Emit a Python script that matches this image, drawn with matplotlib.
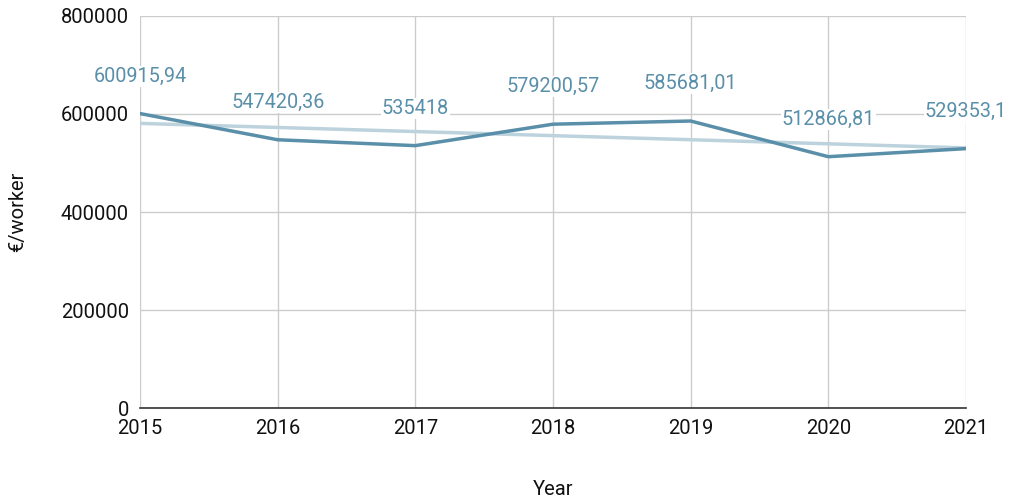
import numpy as np
import matplotlib.pyplot as plt

plt.rcParams['font.family'] = ['Roboto', 'DejaVu Sans']

years = [2015, 2016, 2017, 2018, 2019, 2020, 2021]
values = [600915.94, 547420.36, 535418, 579200.57, 585681.01, 512866.81, 529353.1]
labels = ["600915,94", "547420,36", "535418", "579200,57", "585681,01", "512866,81", "529353,1"]

line_color = '#5a8fa9'
trend_color = '#bcd2dd'

fig = plt.figure(figsize=(10.11, 4.99), dpi=100)
ax = fig.add_axes([140 / 1011, 1 - 408 / 499, 826 / 1011, 392 / 499])

# linear trendline
coef = np.polyfit(years, values, 1)
ax.plot(years, np.polyval(coef, years), color=trend_color, lw=2.5, zorder=2)
ax.plot(years, values, color=line_color, lw=2.5, zorder=3)

for x, y, s in zip(years, values, labels):
    ax.annotate(s, (x, y), xytext=(0, 27), textcoords='offset points',
                ha='center', va='center', fontsize=14.3, color=line_color,
                bbox=dict(boxstyle='square,pad=0.05', fc='white', ec='none'), zorder=4)

ax.set_xlim(2015, 2021)
ax.set_ylim(0, 800000)
ax.set_xticks(years)
ax.set_yticks([0, 200000, 400000, 600000, 800000])
ax.set_yticklabels(['0', '200000', '400000', '600000', '800000'])
ax.grid(True, color='#cccccc', lw=1)
ax.set_axisbelow(True)
for side in ['left', 'top', 'right']:
    ax.spines[side].set_visible(False)
ax.spines['bottom'].set_color('#333333')
ax.spines['bottom'].set_linewidth(1.2)
ax.tick_params(length=0, labelsize=14.5, colors='#111111')
ax.tick_params(axis='y', pad=8)
ax.tick_params(axis='x', pad=8)
ax.set_xlabel('Year', fontsize=14.5, color='#111111', labelpad=30)
ax.set_ylabel('€/worker', fontsize=14.5, color='#111111', labelpad=24)

plt.savefig('out.png', dpi=100)
